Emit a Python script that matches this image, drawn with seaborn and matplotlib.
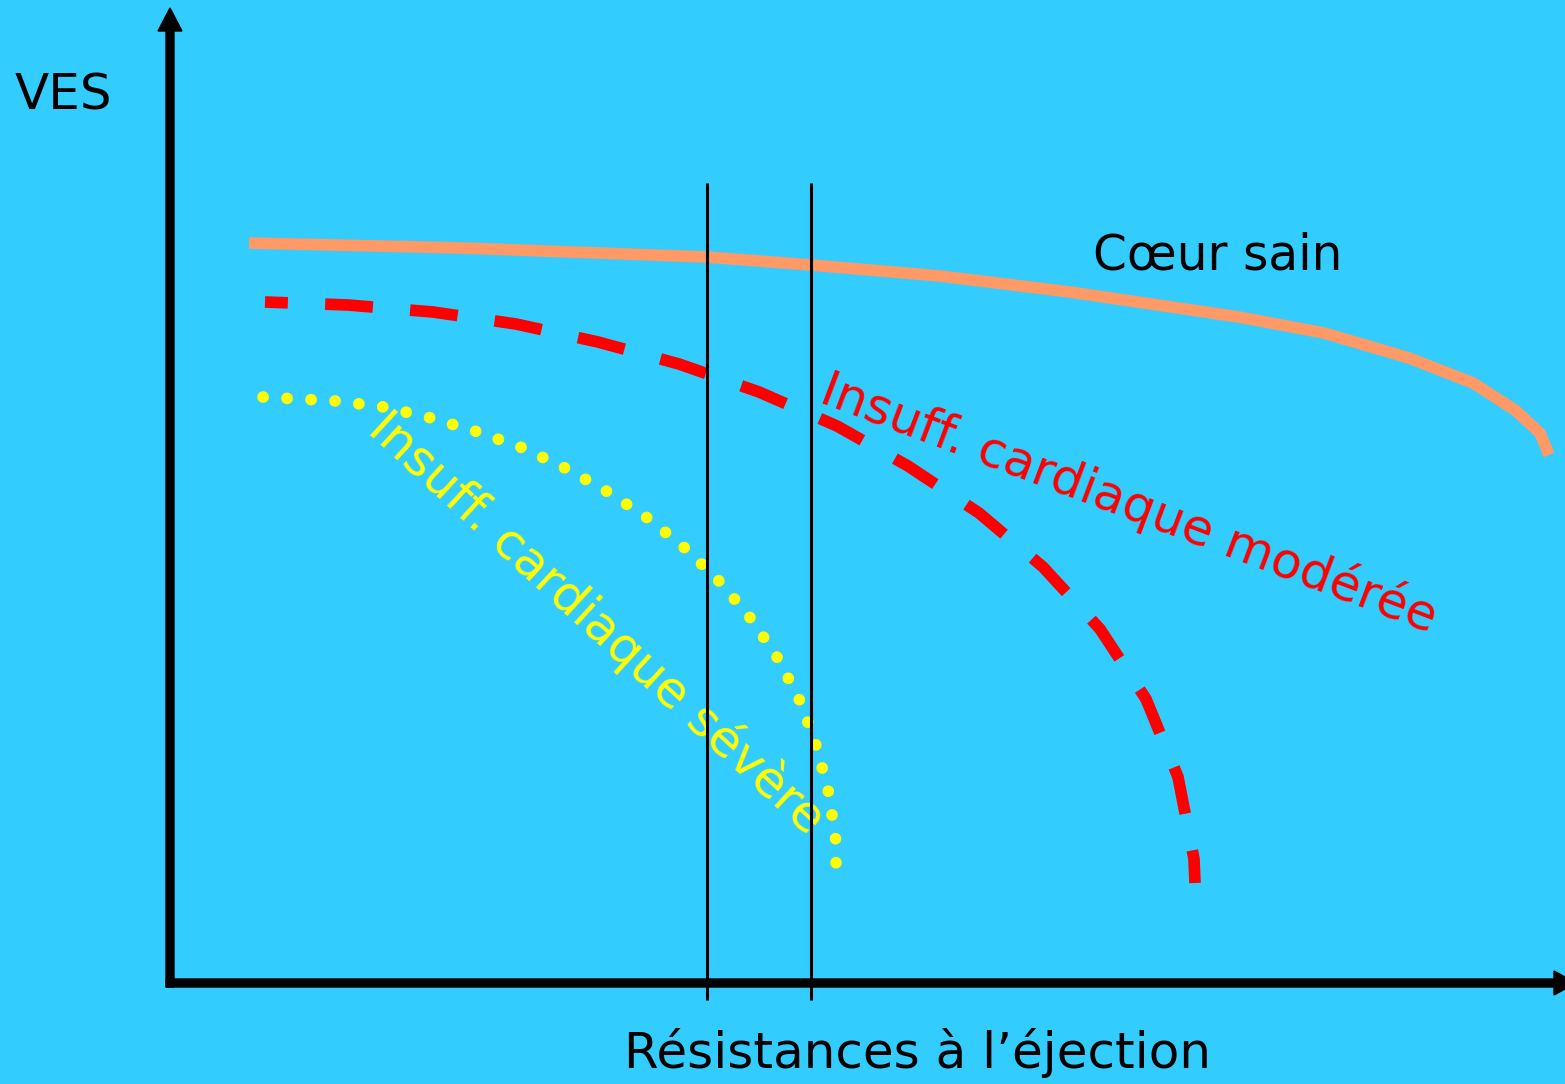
import matplotlib
matplotlib.use("Agg")
import matplotlib.pyplot as plt
import numpy as np
import pandas as pd
import seaborn as sns

# schematic units: origin at the axis corner, 1 unit ~ 100 px
sain_x = [0.79, 2.93, 5.37, 6.41, 7.70, 9.00, 10.69, 11.54, 12.39, 13.03, 13.45, 13.70, 13.79]
sain_y = [7.40, 7.35, 7.26, 7.18, 7.07, 6.91, 6.66, 6.50, 6.25, 6.00, 5.73, 5.50, 5.28]

moderee_x = [0.95, 1.78, 2.63, 3.46, 4.28, 5.09, 5.89, 6.67, 7.38, 8.09, 8.73,
             9.30, 9.76, 10.08, 10.24, 10.25]
moderee_y = [6.81, 6.78, 6.71, 6.59, 6.41, 6.19, 5.91, 5.57, 5.17, 4.70, 4.16,
             3.54, 2.84, 2.06, 1.24, 1.00]

severe_x = [0.93, 1.66, 2.14, 2.61, 3.08, 3.53, 3.97, 4.38, 4.79, 5.16, 5.51,
            5.82, 6.09, 6.31, 6.47, 6.59, 6.66, 6.66]
severe_y = [5.86, 5.82, 5.76, 5.65, 5.51, 5.35, 5.14, 4.91, 4.64, 4.34, 4.00,
            3.63, 3.23, 2.80, 2.35, 1.89, 1.41, 1.17]

reperes_x = [5.37, 6.41]
reperes_y = (-0.17, 8.00)

bg = "#33CCFF"
sns.set_theme(style="white")
plt.rcParams["font.family"] = ["DejaVu Sans"]

fig = plt.figure(figsize=(15.65, 10.84), dpi=100, facecolor=bg)
ax = fig.add_axes([0, 0, 1, 1])
ax.set_xlim(-1.70, 13.95)
ax.set_ylim(-1.01, 9.83)
ax.axis("off")

df_sain = pd.DataFrame({"x": sain_x, "y": sain_y})
df_mod = pd.DataFrame({"x": moderee_x, "y": moderee_y})
df_sev = pd.DataFrame({"x": severe_x, "y": severe_y})

sns.lineplot(data=df_sain, x="x", y="y", sort=False, estimator=None, ax=ax,
             color="#FF9966", lw=8.4, solid_capstyle="butt", solid_joinstyle="round")
sns.lineplot(data=df_mod, x="x", y="y", sort=False, estimator=None, ax=ax,
             color="#FF0000", lw=8.4, linestyle=(2.14, (4.1, 3.2)),
             dash_capstyle="butt", dash_joinstyle="round")
sns.lineplot(data=df_sev, x="x", y="y", sort=False, estimator=None, ax=ax,
             color="#FFFF00", lw=8.4, linestyle=(0, (0.01, 2.05)), dash_capstyle="round")

ax.vlines(reperes_x, reperes_y[0], reperes_y[1], color="black", lw=2.2, zorder=5)

# axes with arrow heads
ax.arrow(-0.04, 0, 14.1, 0, width=0.08, head_width=0.24, head_length=0.22,
         length_includes_head=True, color="black", zorder=6)
ax.arrow(0, -0.04, 0, 9.79, width=0.08, head_width=0.24, head_length=0.23,
         length_includes_head=True, color="black", zorder=6)

ax.text(-1.55, 8.73, "VES", fontsize=36, color="black", ha="left", va="baseline")
ax.text(9.23, 7.13, "Cœur sain", fontsize=35, color="black", ha="left", va="baseline")
ax.text(7.47, -0.85, "Résistances à l’éjection", fontsize=36, color="black",
        ha="center", va="baseline")
ax.text(6.48, 5.81, "Insuff. cardiaque modérée", fontsize=36, color="#FF0000",
        ha="left", va="baseline", rotation=-20.7, rotation_mode="anchor")
ax.text(1.96, 5.51, "Insuff. cardiaque sévère", fontsize=36, color="#FFFF00",
        ha="left", va="baseline", rotation=-42.5, rotation_mode="anchor")

fig.savefig("out.png", dpi=100, facecolor=bg)
